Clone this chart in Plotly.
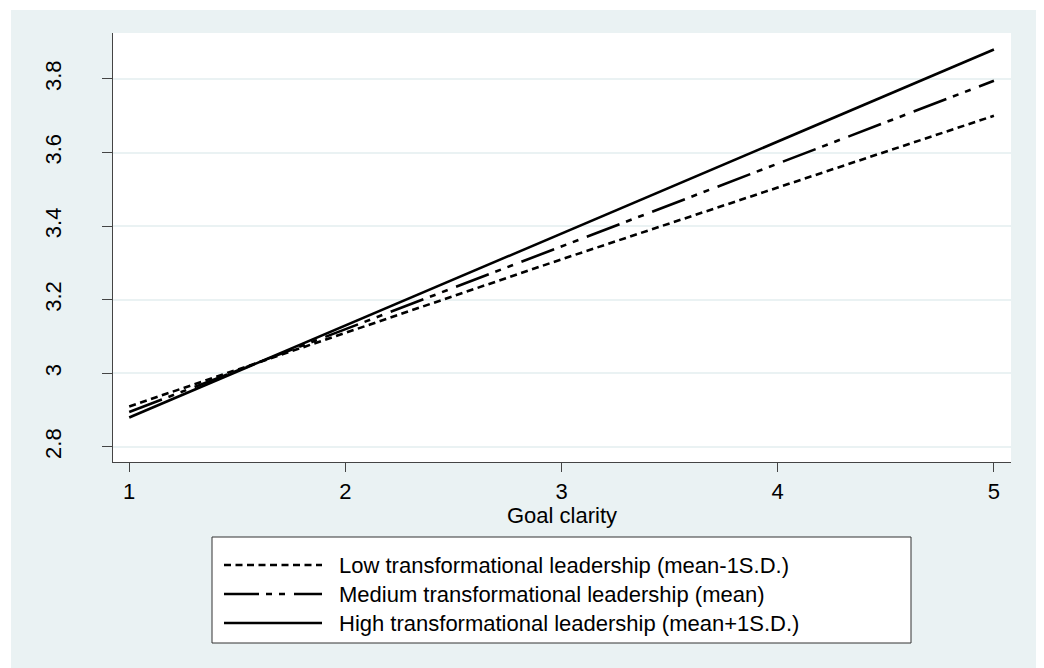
import plotly.graph_objects as go

# ---- data ----
goal_clarity = [1, 2, 3, 4, 5]
low_tl = [2.91, 3.11, 3.31, 3.505, 3.70]
medium_tl = [2.895, 3.12, 3.345, 3.57, 3.795]
high_tl = [2.88, 3.13, 3.38, 3.63, 3.88]

series_names = [
    "Low transformational leadership (mean-1S.D.)",
    "Medium transformational leadership (mean)",
    "High transformational leadership (mean+1S.D.)",
]
series_values = [low_tl, medium_tl, high_tl]
series_dash = ["7px,4.5px", "35px,7px,6px,7px,6px,9px", "solid"]

x_ticks = [1, 2, 3, 4, 5]
y_ticks = [2.8, 3.0, 3.2, 3.4, 3.6, 3.8]
y_ticklabels = ["2.8", "3", "3.2", "3.4", "3.6", "3.8"]

# ---- layout geometry (page pixels; page body has an 8px margin) ----
OFF = 8
W, H = 1044 - OFF, 668 - OFF
PL, PR, PT, PB = 113, 1011, 33, 462          # plot area in page px
L, R, T, B = PL - OFF, (W + OFF) - PR, PT - OFF, (H + OFF) - PB
PW, PH = PR - PL, PB - PT

FONT = "Liberation Sans, Arial, sans-serif"
FS = 22
BG = "#EAF2F3"


def px(xp):
    return (xp - PL) / PW


def py(yp):
    return (PB - yp) / PH


fig = go.Figure()
for name, vals, dash in zip(series_names, series_values, series_dash):
    fig.add_trace(go.Scatter(
        x=goal_clarity, y=vals, mode="lines", name=name,
        line=dict(color="black", width=2.6, dash=dash),
        showlegend=False,
    ))

shapes = [
    # outer graph region
    dict(type="rect", xref="paper", yref="paper", layer="below",
         x0=px(11), x1=px(1038), y0=py(680), y1=py(10),
         fillcolor=BG, line=dict(width=0)),
    # plot region
    dict(type="rect", xref="paper", yref="paper", layer="below",
         x0=0, x1=1, y0=0, y1=1, fillcolor="white", line=dict(width=0)),
    # legend box
    dict(type="rect", xref="paper", yref="paper", layer="below",
         x0=px(212), x1=px(911), y0=py(643), y1=py(537),
         fillcolor="white", line=dict(color="#333333", width=1)),
]
annotations = []
row_y = [565, 594, 623]
for name, dash, ry in zip(series_names, series_dash, row_y):
    shapes.append(dict(type="line", xref="paper", yref="paper", layer="above",
                       x0=px(224), x1=px(322), y0=py(ry), y1=py(ry),
                       line=dict(color="black", width=2.6, dash=dash)))
    annotations.append(dict(xref="paper", yref="paper", x=px(337), y=py(ry),
                            text=name, showarrow=False, xanchor="left",
                            yanchor="middle",
                            font=dict(family=FONT, size=FS, color="black")))

fig.update_layout(
    width=W, height=H,
    margin=dict(l=L, r=R, t=T, b=B, pad=0),
    paper_bgcolor="white", plot_bgcolor="white",
    font=dict(family=FONT, size=FS, color="black"),
    shapes=shapes, annotations=annotations,
    showlegend=False,
)
fig.update_xaxes(
    range=[0.925, 5.079], tickvals=x_ticks, ticktext=[str(v) for v in x_ticks],
    showgrid=False, zeroline=False, showline=True, linecolor="#444444",
    linewidth=1.2, ticks="outside", ticklen=9, tickcolor="#444444",
    tickfont=dict(family=FONT, size=FS, color="black"),
    title=dict(text="Goal clarity", standoff=1,
               font=dict(family=FONT, size=FS, color="black")),
)
fig.update_yaxes(
    range=[2.759, 3.925], tickvals=y_ticks, ticktext=y_ticklabels,
    tickangle=-90, showgrid=True, gridcolor=BG, gridwidth=2,
    zeroline=False, showline=True, linecolor="#444444", linewidth=1.2,
    ticks="outside", ticklen=10, tickcolor="#444444",
    ticklabelstandoff=32,
    tickfont=dict(family=FONT, size=FS, color="black"),
)

fig.write_html("out.html")
